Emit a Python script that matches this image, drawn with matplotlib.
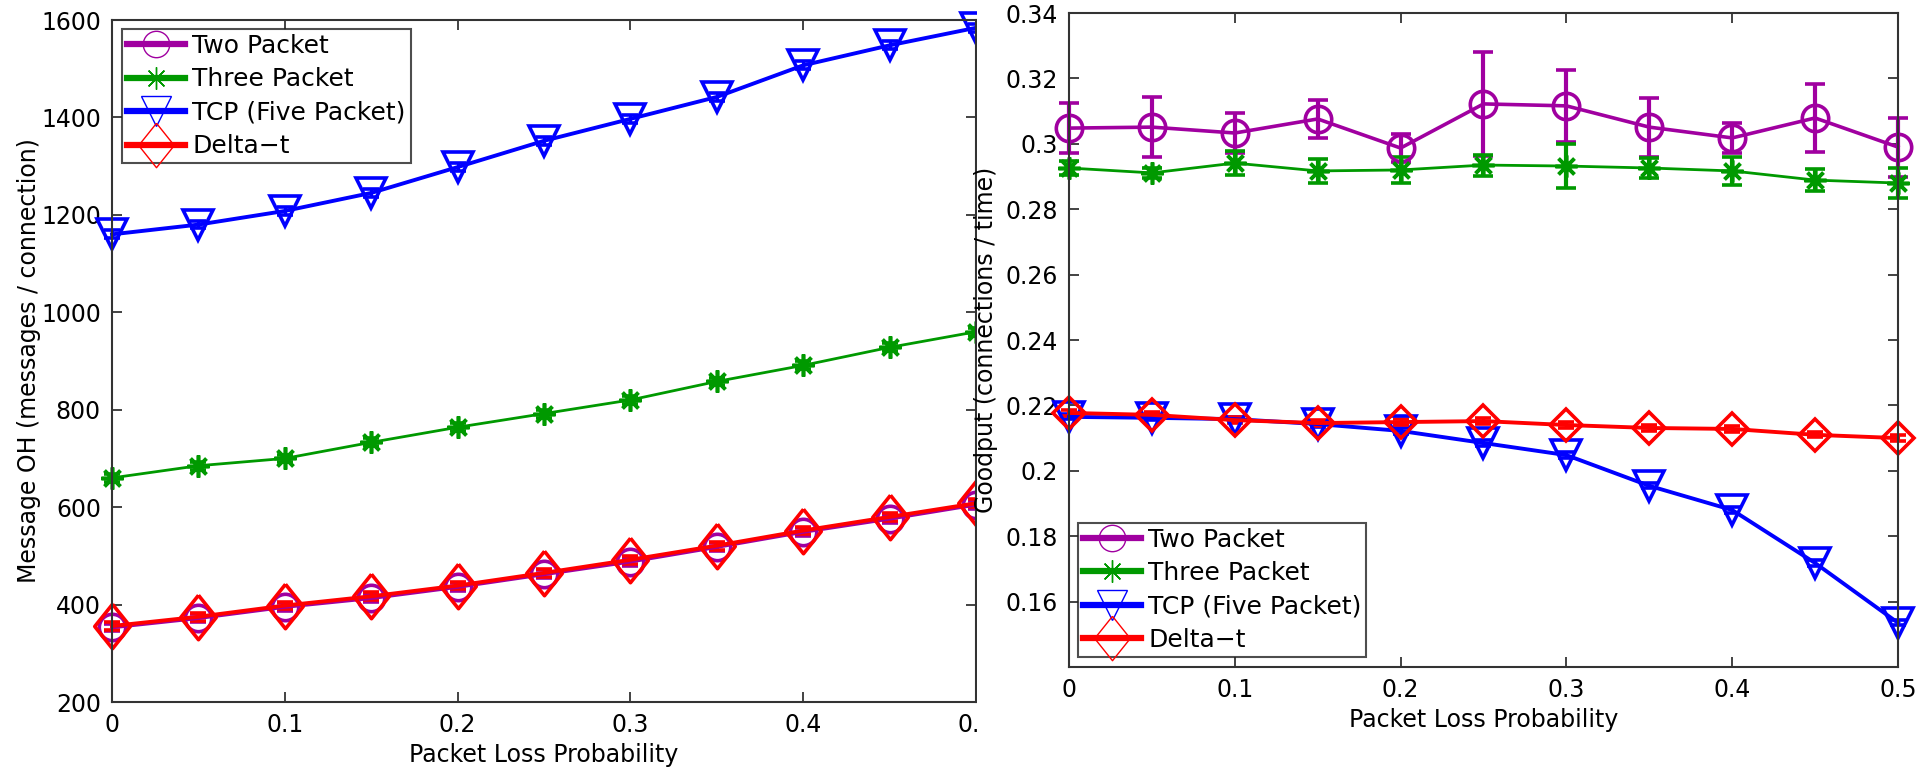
import matplotlib
matplotlib.use("Agg")
from matplotlib import pyplot as plt
from matplotlib.lines import Line2D
from matplotlib.patches import Rectangle
import numpy as np

# packet loss probability
loss = [0, 0.05, 0.1, 0.15, 0.2, 0.25, 0.3, 0.35, 0.4, 0.45, 0.5]

# left: message overhead (messages / connection)
oh_two = [353, 372, 395, 413, 436, 462, 488, 518, 549, 576, 605]
oh_three = [660, 685, 700, 733, 764, 792, 820, 858, 891, 928, 960]
oh_tcp = [1160, 1180, 1208, 1245, 1298, 1352, 1397, 1442, 1507, 1548, 1584]
oh_delta = [356, 375, 398, 417, 439, 465, 492, 521, 552, 580, 608]

# right: goodput (connections / time)
gp_two = [0.3048, 0.3051, 0.3033, 0.3076, 0.2987, 0.3122, 0.3116, 0.3051, 0.3018, 0.3079, 0.2990]
gp_two_err = [0.0076, 0.0092, 0.0060, 0.0058, 0.0043, 0.0160, 0.0110, 0.0090, 0.0046, 0.0105, 0.0090]
gp_three = [0.2926, 0.2911, 0.2941, 0.2917, 0.2920, 0.2935, 0.2932, 0.2926, 0.2917, 0.2889, 0.2880]
gp_three_err = [0.0020, 0.0015, 0.0036, 0.0037, 0.0041, 0.0032, 0.0067, 0.0032, 0.0043, 0.0034, 0.0046]
gp_tcp = [0.2165, 0.2162, 0.2158, 0.2143, 0.2122, 0.2085, 0.2048, 0.1954, 0.1880, 0.1718, 0.1535]
gp_delta = [0.2177, 0.2171, 0.2155, 0.2146, 0.2149, 0.2152, 0.2140, 0.2131, 0.2128, 0.2110, 0.2100]

labels = ["Two Packet", "Three Packet", "TCP (Five Packet)", "Delta\u2212t"]
colors = ["#a000a0", "#009900", "#0000ff", "#ff0000"]
diamond = [(0, 1), (0.8, 0), (0, -1), (-0.8, 0), (0, 1)]
markers = ["o", (8, 2, 0), "v", diamond]
msizes = [19, 16, 22, 32]

plt.rcParams["font.family"] = ["DejaVu Sans"]
plt.rcParams["font.size"] = 17

fig = plt.figure(figsize=(19.31, 7.67), dpi=100)
W, H = 1931, 767
ax1 = fig.add_axes([112 / W, 1 - 702 / H, (976 - 112) / W, (702 - 20) / H], zorder=0)
ax2 = fig.add_axes([1069 / W, 1 - 667 / H, (1898 - 1069) / W, (667 - 13) / H], zorder=2)

# left panel
oh_all = [oh_two, oh_three, oh_tcp, oh_delta]
lws = [2.6, 2.0, 2.8, 2.8]
for ys, c, m, ms, lw in zip(oh_all, colors, markers, msizes, lws):
    ax1.errorbar(loss, ys, yerr=8, color=c, lw=lw, marker=m, ms=ms, mfc="none",
                 mec=c, mew=2.6, capsize=6, capthick=2.5, elinewidth=2.2, clip_on=False)

ax1.set_xlim(0, 0.5)
ax1.set_ylim(200, 1600)
ax1.set_xticks([0, 0.1, 0.2, 0.3, 0.4, 0.5])
ax1.set_xticklabels(["0", "0.1", "0.2", "0.3", "0.4", "0.5"])
ax1.set_yticks(np.arange(200, 1601, 200))
ax1.set_xlabel("Packet Loss Probability", labelpad=4)
ax1.set_ylabel("Message OH (messages / connection)", labelpad=0)

# right panel
ax2.errorbar(loss, gp_two, yerr=gp_two_err, color=colors[0], lw=2.6, marker=markers[0],
             ms=msizes[0], mfc="none", mec=colors[0], mew=2.6, capsize=7, capthick=3,
             elinewidth=3, clip_on=False)
ax2.errorbar(loss, gp_three, yerr=gp_three_err, color=colors[1], lw=2.0, marker=markers[1],
             ms=msizes[1], mfc="none", mec=colors[1], mew=2.6, capsize=7, capthick=3,
             elinewidth=3, clip_on=False)
ax2.errorbar(loss, gp_tcp, yerr=0.0008, color=colors[2], lw=2.8, marker=markers[2],
             ms=msizes[2], mfc="none", mec=colors[2], mew=2.6, capsize=6, capthick=2.5,
             elinewidth=2.2, clip_on=False)
ax2.errorbar(loss, gp_delta, yerr=0.0008, color=colors[3], lw=2.8, marker="D",
             ms=16, mfc="none", mec=colors[3], mew=2.6, capsize=6, capthick=2.5,
             elinewidth=2.2, clip_on=False)

ax2.set_xlim(0, 0.5)
ax2.set_ylim(0.14, 0.34)
ax2.set_xticks([0, 0.1, 0.2, 0.3, 0.4, 0.5])
ax2.set_xticklabels(["0", "0.1", "0.2", "0.3", "0.4", "0.5"])
ax2.set_yticks(np.arange(0.16, 0.3401, 0.02))
ax2.set_yticklabels(["0.16", "0.18", "0.2", "0.22", "0.24", "0.26", "0.28", "0.3", "0.32", "0.34"])
ax2.set_xlabel("Packet Loss Probability", labelpad=4)
ax2.set_ylabel("Goodput (connections / time)", labelpad=5)

handles = [Line2D([], [], color=c, lw=4.5, marker=m, ms=ms, mfc="none", mec=c, mew=1.0)
           for c, m, ms in zip(colors, markers, msizes)]

for ax in (ax1, ax2):
    ax.tick_params(direction="in", length=7, width=1.2, top=True, right=True,
                   labelsize=17, pad=8, colors="#222222", labelcolor="black")
    for s in ax.spines.values():
        s.set_color("#333333")
        s.set_linewidth(1.5)

leg_kw = dict(fontsize=18, frameon=True, fancybox=False, borderaxespad=0,
              handlelength=2.3, handletextpad=0.3, labelspacing=0.38, borderpad=0.2)
leg1 = ax1.legend(handles, labels, loc="upper left", bbox_to_anchor=(0.012, 0.987), **leg_kw)
leg2 = ax2.legend(handles, labels, loc="lower left", bbox_to_anchor=(0.011, 0.015), **leg_kw)
for leg in (leg1, leg2):
    leg.get_frame().set_edgecolor("#222222")
    leg.get_frame().set_linewidth(1.5)

# white strip where the right picture starts, over the left panel's edge
fig.patches.append(Rectangle((977 / W, 0), (1069 - 977) / W, 1, transform=fig.transFigure,
                             facecolor="white", edgecolor="none", zorder=1))

fig.savefig("out.png", dpi=100)
